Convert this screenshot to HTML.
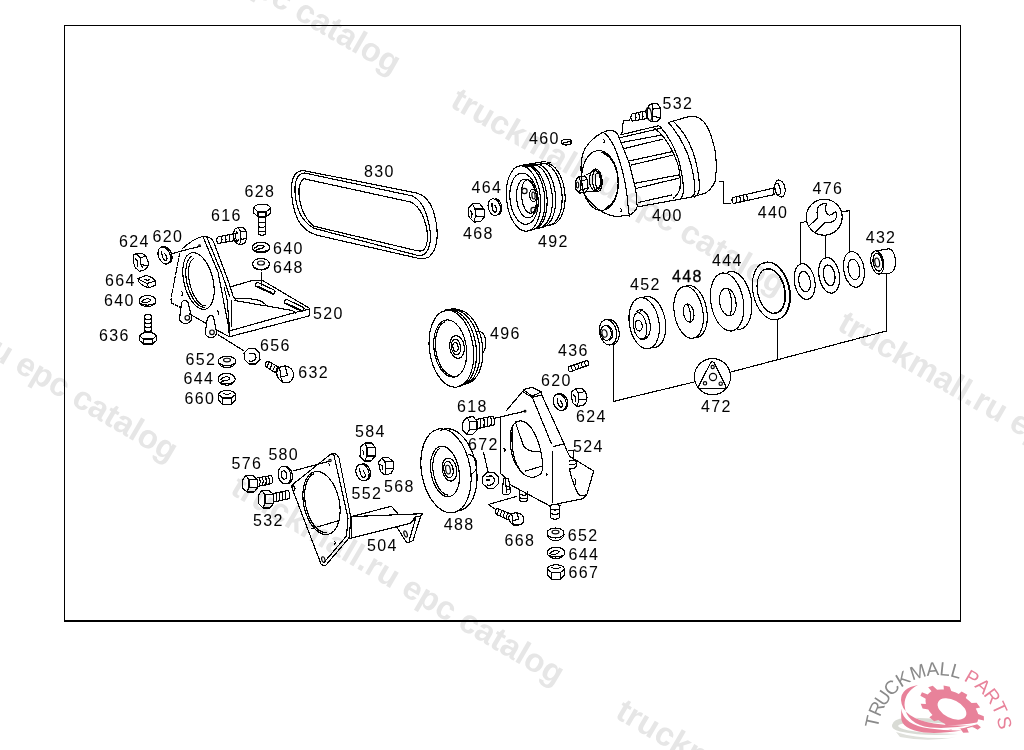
<!DOCTYPE html>
<html><head><meta charset="utf-8"><title>catalog</title>
<style>
html,body{margin:0;padding:0;background:#fff;width:1024px;height:750px;overflow:hidden}
svg{display:block;will-change:transform}
.lb text{font-family:"Liberation Sans",sans-serif;font-size:16px;letter-spacing:1.3px;fill:#000}
.wm text{font-family:"Liberation Sans",sans-serif;font-size:33px;font-weight:bold;fill:#e6e6e6}
.p{fill:none;stroke:#000;stroke-width:1.15;stroke-linejoin:round;stroke-linecap:round;shape-rendering:crispEdges}
</style></head><body>
<svg width="1024" height="750" viewBox="0 0 1024 750">
<g class="wm"><text transform="translate(64,-115) rotate(30)">truckmall.ru epc catalog</text>
<text transform="translate(449,106) rotate(30)">truckmall.ru epc catalog</text>
<text transform="translate(836,329) rotate(30)">truckmall.ru epc catalog</text>
<text transform="translate(-157.5,269.5) rotate(30.5)">truckmall.ru epc catalog</text>
<text transform="translate(229,493) rotate(30.5)">truckmall.ru epc catalog</text>
<text transform="translate(614,717) rotate(30.5)">truckmall.ru epc catalog</text>
</g>
<rect x="64.5" y="25.5" width="896" height="595" fill="none" stroke="#000" stroke-width="1"/>
<line x1="64" y1="621" x2="961" y2="621" stroke="#000" stroke-width="2"/>
<g class="p"><path d="M179.5,254 L171,299 L171.5,303 L180.5,307.5" stroke-dasharray="3,1.5"/>
<path d="M172,253.6 L189,249 L200,246.5"/>
<circle cx="199.5" cy="245.5" r="0.8" shape-rendering="geometricPrecision"/>
<path d="M182,249 Q193,239 201,237 Q207,235.5 211,238.5 Q213,240 214,243 L229,283 L233,296 L235,299"/>
<path d="M203.5,238 L218,272 L229,329"/>
<path d="M207,237.5 L222,274 L226.5,287 L230,297"/>
<path d="M224,287 L227,299 L229.5,329"/>
<path d="M231.5,301 L231.5,326"/>
<ellipse cx="198.5" cy="281" rx="14.5" ry="29" transform="rotate(-14 198.5 281)"/>
<path d="M204.8,307.4 L203.6,307.3 202.3,307 201,306.5 199.6,305.7 198.3,304.7 197,303.5 195.7,302.1 194.4,300.5 193.2,298.7 192.1,296.7 191,294.6 190,292.4 189.1,290.1 188.3,287.7 187.5,285.2 186.9,282.7 186.5,280.2 186.1,277.7 185.9,275.2 185.8,272.8 185.8,270.5 186,268.3 186.3,266.2 186.7,264.2 187.2,262.4 187.8,260.8 188.6,259.4 189.5,258.2 190.4,257.2 191.5,256.5"/>
<path d="M205.5,305.9 L204.4,305.8 203.3,305.6 202.1,305.1 201,304.3 199.8,303.4 198.6,302.3 197.5,300.9 196.4,299.4 195.3,297.7 194.3,295.9 193.3,294 192.4,291.9 191.6,289.7 190.8,287.5 190.2,285.2 189.6,282.9 189.2,280.6 188.8,278.3 188.6,276 188.5,273.8 188.5,271.7 188.6,269.6 188.8,267.7 189.1,265.9 189.6,264.3 190.1,262.8 190.7,261.5 191.5,260.4 192.3,259.5 193.2,258.8"/>
<path d="M181.5,291.5 Q184,293 182,295.5"/>
<path d="M217.5,311 Q220,313 218,315"/>
<path d="M181.5,303 Q182.5,300 185.5,300.5 Q188.5,301 188.5,304 L191.5,317 Q192,323 186,323.5 Q180.5,323.5 179.5,319 Z"/>
<circle cx="187.3" cy="317.8" r="2.3" shape-rendering="geometricPrecision"/>
<path d="M189.5,314 L205.5,323"/>
<path d="M207.5,318 Q208.5,315.5 211,315.5 Q213.5,315.5 213.8,318 L216.5,332 Q216.5,337.5 210.5,337.5 Q205.5,337 205.2,332 Z"/>
<circle cx="212" cy="332.3" r="2.3" shape-rendering="geometricPrecision"/>
<path d="M216.5,330 L229,336.5"/>
<path d="M218.5,335 L244,351"/>
<path d="M230.6,286.8 L253,280.3 L262.3,280.3 L309.5,308.3 L309.5,315.8 L229.2,336.8 L229,329"/>
<path d="M309.5,309 L295,312.5 L231,330.5"/>
<path d="M235.3,299 Q250,297 262,301.5 Q265,304 267,306 L292,310.5 Q296,312 295,314"/>
<path d="M235,300.5 L266,306"/>
<rect x="-10.5" y="-2.2" width="21" height="4.4" rx="2.2" transform="translate(265.2 288.3) rotate(25)"/>
<path d="M257.5,286.2 L272,292.8"/>
<rect x="-10.5" y="-2.2" width="21" height="4.4" rx="2.2" transform="translate(294.2 305.4) rotate(25)"/>
<path d="M286.5,303.3 L301,310"/>
<path d="M261.4,272.5 L261.4,285.5"/>
<path d="M253.8,208 Q255,204.2 262,204.2 Q269.5,204.2 270.5,208 L270.5,213 L266,217 L258,217 L253.8,213 Z"/>
<path d="M253.8,208 L258,212 L266,212 L270.5,208"/>
<path d="M258,212 L258,217 M266,212 L266,217"/>
<path d="M258.2,217 L258.2,234 Q262,236.5 265.5,234 L265.5,217"/>
<path d="M258.2,222 Q262,223.8 265.5,222"/>
<path d="M258.2,226.5 Q262,228.3 265.5,226.5"/>
<path d="M258.2,231 Q262,232.8 265.5,231"/>
<path d="M234.3,229.5 L238,227.3 L243.1,227.3 L246,231 L246.8,238.3 L244.6,243.4 L239.5,244.9 L235.1,241.9 L233.2,236 Z"/>
<path d="M238,227.3 L240.5,231.5 L241,239.5 L239.5,244.9 M240.5,231.5 L246,231 M241,239.5 L246.8,238.3"/>
<path d="M236.5,232 Q234.5,236.5 237,241.5"/>
<path d="M237.5,233 L218,237 Q215.5,240 218,243.5 L238.5,240"/>
<path d="M221,236.5 Q223,240 221,243.0"/>
<path d="M225,235.7 Q227,240 225,242.2"/>
<path d="M229,234.9 Q231,240 229,241.4"/>
<path d="M233,234.1 Q235,240 233,240.6"/>
<ellipse cx="261" cy="247.5" rx="8.8" ry="5.4"/><path d="M254.7,248.1 Q260.1,243.3 264.1,246.4 Q263.6,249.1 256.2,249.2"/><path d="M253.1,249.9 Q261,253.2 268.5,249.9"/>
<ellipse cx="261" cy="264" rx="8.5" ry="5.5"/>
<ellipse cx="261" cy="263" rx="3.5" ry="2" shape-rendering="geometricPrecision"/>
<path d="M252.5,265 Q254,270 261,270 Q268,270 269.5,265"/>
<path d="M133.4,255 L137,253.5 L142.4,253.5 L146,256 L148.4,262.8 L147.8,267 L144.2,270 L139.4,271.2 L135.2,267.6 L133.1,261 Z"/>
<path d="M137,254.5 L140.5,258 L141,264.5 L143,268 M140.5,258 L145.5,256 M141,264.5 L148,266"/>
<path d="M135.5,259 Q139,261 137.5,266"/>
<g transform="translate(164.3 255.5) rotate(-22)"><ellipse cx="0" cy="0" rx="5.8" ry="8.9"/><path d="M3,-8.6 L4,-8 5,-7.1 5.8,-5.9 6.5,-4.5 7,-3 7.2,-1.3 7.3,0.4 7.1,2.1 6.8,3.7 6.2,5.2 5.5,6.5 4.6,7.5 3.6,8.3 2.5,8.8"/><path d="M-1.2,-4.5 Q-3.5,4 -0.3,5.5 Q2.6,4.5 1.2,-1.3"/></g>
<path d="M138,278.5 L146,275.5 Q153,277 155.5,281 L155.5,285 L149,288 Q142,286 138.5,281.5 Z"/>
<path d="M138,279 L147,283.5 L155.5,281 M147,283.5 L149,288 M145,279.5 L147.5,280.5 L150,279"/>
<ellipse cx="147.5" cy="301" rx="8.5" ry="5.5"/><path d="M141.4,301.7 Q146.7,296.7 150.5,299.9 Q150.1,302.6 142.8,302.8"/><path d="M139.8,303.5 Q147.5,306.8 154.7,303.5"/>
<path d="M144.3,333 L144.3,316 Q148,312.5 151.8,316 L151.8,333"/>
<path d="M144.3,318.5 Q148,320.3 151.8,318.5"/>
<path d="M144.3,322.5 Q148,324.3 151.8,322.5"/>
<path d="M144.3,326.5 Q148,328.3 151.8,326.5"/>
<path d="M144.3,330.5 Q148,332.3 151.8,330.5"/>
<path d="M139.5,336 Q141,332.5 148,332.5 Q155,332.5 156.5,336 L156.5,340.5 L152.5,344 L143.5,344 L139.5,340.5 Z"/>
<path d="M139.5,336 L143.5,339 L152.5,339 L156.5,336 M143.5,339 L143.5,344 M152.5,339 L152.5,344"/>
<path d="M244,353 L248.5,348.5 L255,348.5 L259.5,353 L260,359.5 L255.5,364 L249,364 L244.5,359.5 Z"/>
<path d="M250,353.5 Q256,352 256,357.5 Q255.5,362 249.5,361"/>
<ellipse cx="227" cy="361" rx="8.8" ry="4.8"/>
<ellipse cx="227" cy="360" rx="3.5" ry="1.8" shape-rendering="geometricPrecision"/>
<path d="M218.3,362 Q219.5,367.5 227,367.5 Q234.5,367.5 235.7,362"/>
<ellipse cx="226.6" cy="379.2" rx="8.6" ry="6"/><path d="M220.4,379.9 Q225.7,374.5 229.6,378 Q229.2,381 221.9,381.1"/><path d="M218.9,381.9 Q226.6,385.5 233.9,381.9"/>
<path d="M218.5,394.5 Q220,390.5 227,390.5 Q234,390.5 235.5,394.5 L235.5,400 L231.5,404.5 L222.5,404.5 L218.5,400 Z"/>
<path d="M218.5,394.5 L222.5,398 L231.5,398 L235.5,394.5 M222.5,398 L222.5,404.5 M231.5,398 L231.5,404.5 M223,393 Q227,396 231,393"/>
<path d="M278.5,367.5 L285,365.8 Q292,367 293.5,373.5 Q294,380 288.5,382.5 L283,382.5 Q277.5,379 276.5,373.5 Z"/>
<path d="M278.5,367.5 Q281.5,372 280.5,377 L283,382.5 M280.5,377 L287.5,375.5 L285,365.8"/>
<path d="M279.5,367.5 L268.5,361.5 Q264,362 265.5,366.5 L276,373"/>
<path d="M269,362.5 Q267.5,366.0 266.5,367.5"/>
<path d="M272,364.2 Q270.5,367.7 269.5,369.2"/>
<path d="M275,365.9 Q273.5,369.4 272.5,370.9"/>
<path d="M278,367.6 Q276.5,371.1 275.5,372.6"/>
<path d="M278,366.5 Q275,370.5 277.5,375"/><path d="M304.2,170.7 L416.7,193 Q428,196 433,210 Q437.5,224 437.2,236 Q437,250 429,257 Q424,259.5 417,258 L317,235.2 Q305,232 298,220 Q291.5,206 291.5,188 Q292,176 297,172.5 Q300,170.5 304.2,170.7 Z"/>
<path d="M304.5,173 L412.2,195.9 Q421,200 425.5,212 Q430.5,226 430.5,238 Q430,250 424,254.5 Q420.5,256 416,255 L313.8,228.3 Q303,222 298.5,210 Q294,197 295.2,185 Q296.5,176 301,174 Z"/>
<path d="M303.7,178.7 L411,202.1 Q418,206 422,214 Q427,225 427.5,236 Q427.5,247 423,250.5 Q420,251.5 416,250.5 L313.8,226.2 Q306,220 302,209 Q298.5,198 299,189 Q300,181 303.7,178.7 Z"/>
<ellipse cx="523.5" cy="198.5" rx="17" ry="32.8" transform="rotate(-6 523.5 198.5)"/>
<ellipse cx="524" cy="198.7" rx="14" ry="25.7" transform="rotate(-6 524 198.7)"/>
<ellipse cx="526.6" cy="198.5" rx="10" ry="19.5" transform="rotate(-6 526.6 198.5)"/>
<ellipse cx="529" cy="196.5" rx="7.5" ry="16.8" transform="rotate(-6 529 196.5)"/>
<circle cx="524.5" cy="191" r="2.6" shape-rendering="geometricPrecision"/>
<circle cx="533.5" cy="210" r="2.6" shape-rendering="geometricPrecision"/>
<ellipse cx="533" cy="195.5" rx="3.3" ry="6" transform="rotate(-6 533 195.5)"/>
<ellipse cx="533.5" cy="195.5" rx="1.6" ry="3.5" transform="rotate(-6 533.5 195.5)" shape-rendering="geometricPrecision"/>
<path d="M522.8,165.6 L524.8,165.2 526.9,165.4 528.9,166 530.9,167 532.9,168.5 534.8,170.3 536.6,172.6 538.3,175.2 539.8,178.1 541.2,181.3 542.4,184.8 543.3,188.4 544.1,192.1 544.6,195.9 544.9,199.8 544.9,203.6 544.7,207.3 544.3,210.9 543.6,214.3 542.7,217.5 541.6,220.4 540.3,223 538.9,225.2 537.2,227.1 535.5,228.5 533.6,229.5 531.6,230.1 529.6,230.2"/>
<path d="M525.1,165.5 L527.1,165.1 529.1,165.3 531.1,165.9 533.1,166.9 535.1,168.3 537,170.2 538.8,172.4 540.5,175 542,177.9 543.4,181.1 544.6,184.5 545.5,188 546.3,191.7 546.8,195.5 547.1,199.3 547.1,203.1 546.9,206.8 546.5,210.4 545.8,213.8 544.9,216.9 543.8,219.8 542.5,222.3 541,224.6 539.4,226.4 537.6,227.8 535.8,228.8 533.8,229.4 531.8,229.5"/>
<path d="M530.4,164.8 L532.4,164.4 534.4,164.6 536.5,165.1 538.5,166.2 540.5,167.6 542.4,169.4 544.2,171.6 545.8,174.2 547.4,177.1 548.7,180.2 549.9,183.6 550.8,187.1 551.6,190.8 552.1,194.5 552.4,198.3 552.4,202 552.2,205.7 551.8,209.2 551.1,212.6 550.2,215.7 549.1,218.6 547.8,221.1 546.3,223.3 544.7,225.1 542.9,226.5 541,227.5 539.1,228.1 537.1,228.2"/>
<path d="M533.6,164.3 L535.6,164 537.6,164.2 539.7,164.7 541.7,165.7 543.7,167.2 545.6,169 547.4,171.2 549,173.7 550.6,176.6 551.9,179.7 553.1,183 554.1,186.6 554.8,190.2 555.3,193.9 555.6,197.7 555.6,201.4 555.4,205 555,208.5 554.3,211.9 553.4,215 552.3,217.8 551,220.3 549.5,222.5 547.9,224.3 546.1,225.7 544.2,226.7 542.2,227.3 540.2,227.4"/>
<path d="M540.2,163.6 L542.2,163.3 544.2,163.5 546.2,164 548.2,165 550.2,166.4 552.1,168.2 553.9,170.3 555.6,172.8 557.1,175.7 558.5,178.7 559.6,182 560.6,185.5 561.3,189.1 561.8,192.7 562.1,196.4 562.1,200.1 561.9,203.7 561.4,207.1 560.8,210.4 559.8,213.5 558.7,216.2 557.4,218.7 555.9,220.9 554.3,222.7 552.5,224 550.7,225 548.7,225.6 546.7,225.7"/>
<path d="M543.2,163.4 L545.2,163.1 547.2,163.2 549.3,163.8 551.3,164.8 553.2,166.2 555.1,167.9 556.9,170.1 558.6,172.5 560.1,175.3 561.5,178.4 562.6,181.6 563.6,185 564.3,188.6 564.8,192.2 565.1,195.9 565.1,199.5 564.9,203.1 564.4,206.5 563.7,209.7 562.8,212.8 561.7,215.5 560.4,218 558.9,220.1 557.3,221.9 555.5,223.3 553.6,224.2 551.7,224.8 549.7,224.9"/>
<path d="M521,165.5 L546,161.2 M527,166.5 L550,162.5"/>
<path d="M468.5,208 L472.5,203.8 L479.5,203.6 L484,209 L484.8,216.5 L480.5,221.8 L474,222 L469,217 Z"/>
<path d="M472.5,203.8 L475,209 L475.5,216 L474,222 M475,209 L484,209 M475.5,216 L484.8,216.5"/>
<path d="M470.5,211 Q473,213 471.5,217"/>
<g transform="translate(494.2 207.2) rotate(-15)"><ellipse cx="0" cy="0" rx="6" ry="8.5"/><path d="M3.1,-8.2 L4.1,-7.6 5.1,-6.8 6,-5.7 6.7,-4.3 7.2,-2.9 7.4,-1.3 7.5,0.4 7.3,2 7,3.5 6.4,5 5.6,6.2 4.7,7.2 3.7,7.9 2.5,8.4"/><path d="M-1.2,-4.2 Q-3.6,3.8 -0.3,5.3 Q2.7,4.2 1.2,-1.3"/></g>
<path d="M561,142 Q562,139.5 567,139.2 Q572,139.5 572,142 Q571,145 566,145 Q561,145 561,142 Z"/>
<path d="M562,143.5 Q566,141.5 570.5,142"/>
<path d="M602.2,132.6 Q607,130.3 612,130.5 Q616,131 617.6,134 L628.8,162 L635.8,190 L637.2,206.8 Q635,213 628.8,215.2 L616.2,216.6 Q607,215 600.8,211 Q594,206.5 589.6,201.2 Q584,195 582.6,190 Q580.5,175 581.2,162 Q582.5,153 585.4,148 Q592,138 602.2,132.6 Z"/>
<path d="M605,133.3 Q612,140 616.5,152 Q624,172 627,195 Q628,208 629.5,216"/>
<ellipse cx="600" cy="180.5" rx="18.3" ry="30" transform="rotate(-4 600 180.5)"/>
<path d="M602,152.3 L604.6,153.2 607.1,154.8 609.5,157 611.7,159.7 613.6,163 615.3,166.7 616.5,170.7 617.4,174.9 618,179.3 618.1,183.7 617.8,188.1 617,192.2 616,196.1 614.5,199.6 612.7,202.6 610.7,205.1 608.4,207 605.9,208.3"/>
<path d="M603.3,153.8 L605.7,154.7 608,156.2 610.2,158.2 612.2,160.9 614,164 615.5,167.4 616.6,171.2 617.5,175.3 618,179.4 618.1,183.6 617.8,187.7 617.2,191.6 616.2,195.3 614.9,198.6 613.2,201.5 611.4,203.8 609.3,205.6 607,206.8"/>
<ellipse cx="595.5" cy="180" rx="6" ry="11"/>
<path d="M596.5,171 L597.9,171.4 599.1,172.7 600.1,174.7 600.8,177.2 601,180 600.8,182.8 600.1,185.3 599.1,187.3 597.9,188.6 596.5,189"/>
<ellipse cx="597.3" cy="180.5" rx="4.8" ry="11" transform="rotate(-4 597.3 180.5)"/>
<ellipse cx="597.8" cy="180.5" rx="2.6" ry="7.5" transform="rotate(-4 597.8 180.5)"/>
<path d="M587,174.5 L596.5,169.5 M587,191.5 L597,191.5"/>
<path d="M575.5,181 L578.5,176.5 L584.5,176 L587.5,179.5 L588,188.5 L585,192.8 L579,193 L575.8,189 Z"/>
<path d="M578.5,176.5 L580.5,181 L580.5,189.5 L579,193 M580.5,181 L587.5,179.5 M580.5,189.5 L588,188.5"/>
<ellipse cx="577.5" cy="185" rx="1.2" ry="3" shape-rendering="geometricPrecision"/>
<path d="M603,139 Q605.5,140.5 604,142.5"/>
<path d="M620,208 Q622.5,209.5 621,211.5"/>
<path d="M620,135 L658.3,125.8"/>
<path d="M620.8,137.5 L660,128.5 M621.7,142.5 L661.7,135 M625,148.3 L662.5,139.2"/>
<path d="M630,160.8 L671.7,151.7 M631.7,165 L673.3,155"/>
<path d="M635,183.3 L678.3,175 M636.7,188.3 L678.3,178.3"/>
<path d="M638.3,202.5 L671.7,195 M638.3,206.7 L693.3,196.7"/>
<path d="M655,128.3 Q666,138 671.7,150 Q678,162 679.2,170 Q681,180 680,188.3 Q678,195 673.3,198.3"/>
<path d="M660,126.5 Q672,140 678,158 Q683,175 683.5,190 Q683,197 680,199"/>
<path d="M668.3,122.5 Q680,135 688,155 Q695,175 695,192 Q694,196 690,197.5"/>
<path d="M673,121 Q686,133 693,152 Q699,170 699.5,187 Q699,195 694.5,197"/>
<path d="M668.3,122.5 L688.3,116.7 Q697,115 703,121 Q710,128 715,150 L716.7,166.7 L715,181.7 Q711,190 705,193.3 L693.3,196.7"/>
<path d="M630,120 L623.3,120.8 L621.7,135"/>
<path d="M648.3,106 L652,103.5 L657.5,104 L660.8,108.5 L660.5,118 L656.5,121.7 L650.5,121.7 L647,117.5 Z"/>
<path d="M652,103.5 L653,109 L652,121.7 M653,109 L660.8,108.5 M652.5,116 L660.5,118"/>
<ellipse cx="649" cy="114" rx="2.5" ry="6.5" transform="rotate(-10 649 114)" shape-rendering="geometricPrecision"/>
<path d="M647.5,110.5 L632,114 Q629.5,118 632.5,121 L648,118.5"/>
<path d="M635,113.5 Q637,117 635,120.8"/>
<path d="M638.5,112.8 Q640.5,117 638.5,120.1"/>
<path d="M642,112.1 Q644,117 642,119.39999999999999"/>
<path d="M645.5,111.4 Q647.5,117 645.5,118.7"/>
<path d="M719.2,181.7 L723.8,181.7 L723.8,203.5 L730.5,203.5"/>
<path d="M774,188 L733,197.5 Q730.5,200.5 733.5,203.5 L774.5,194.5"/>
<path d="M736,197.0 Q738,200 736,203.0"/>
<path d="M739.5,196.195 Q741.5,200 739.5,202.195"/>
<path d="M743,195.39 Q745,200 743,201.39"/>
<path d="M746.5,194.585 Q748.5,200 746.5,200.585"/>
<ellipse cx="780" cy="188.5" rx="5" ry="8.6" transform="rotate(-12 780 188.5)"/>
<ellipse cx="777.5" cy="189" rx="2.6" ry="6" transform="rotate(-12 777.5 189)"/>
<path d="M774,187 Q772.5,191 774.5,194.5"/><ellipse cx="608" cy="332.3" rx="8.5" ry="12.8" transform="rotate(-12 608 332.3)"/>
<path d="M607.8,319.5 L609.5,319.4 611.2,319.8 612.9,320.6 614.5,321.9 615.9,323.6 617.2,325.6 618.1,327.8 618.8,330.2 619.2,332.7 619.2,335.2 618.9,337.5 618.3,339.6 617.3,341.4 616.1,342.9 614.7,343.9 613.2,344.5"/>
<ellipse cx="606" cy="333" rx="5.2" ry="7.5" transform="rotate(-12 606 333)"/>
<ellipse cx="604.5" cy="333.5" rx="2.5" ry="3.8" transform="rotate(-12 604.5 333.5)" shape-rendering="geometricPrecision"/>
<path d="M605.9,325.7 L607.6,325.7 609.2,326.4 610.7,327.8 611.9,329.7 612.6,331.9 612.8,334.2 612.5,336.4 611.8,338.3 610.6,339.6 609.1,340.3"/>
<ellipse cx="644.2" cy="323.2" rx="14.8" ry="25.8" transform="rotate(-10 644.2 323.2)"/>
<path d="M643.6,297.4 L645.6,296.7 647.7,296.5 649.9,296.8 652.2,297.7 654.3,299 656.4,300.9 658.4,303.2 660.2,305.9 661.8,308.9 663.2,312.3 664.3,315.8 665.1,319.4 665.6,323.1 665.7,326.8 665.6,330.4 665.1,333.8 664.4,337 663.3,339.8 662,342.3 660.4,344.3 658.6,345.9 656.6,346.9 654.6,347.5 652.4,347.5"/>
<path d="M641.5,297.8 L647.5,296.2"/>
<ellipse cx="640" cy="326" rx="6.5" ry="13.5" transform="rotate(-10 640 326)"/>
<path d="M640.1,311.1 L641.4,310.7 642.8,310.8 644.3,311.6 645.7,312.9 647,314.7 648.2,317 649.1,319.5 649.8,322.3 650.2,325.1 650.3,327.9 650.1,330.5 649.6,332.8 648.8,334.7 647.8,336.2 646.6,337 645.3,337.3"/>
<ellipse cx="638.8" cy="325.5" rx="3.3" ry="5.5" transform="rotate(-10 638.8 325.5)"/>
<path d="M637,311.5 Q640,308.5 643,310 M641,338.5 Q645,340.5 648,337"/>
<ellipse cx="688.6" cy="312.3" rx="14.3" ry="26.3" transform="rotate(-10 688.6 312.3)"/>
<path d="M685.6,286.4 L687.5,285.7 689.6,285.5 691.7,285.8 693.9,286.7 696,288.2 698.1,290.1 700,292.4 701.8,295.2 703.3,298.3 704.7,301.7 705.8,305.3 706.6,309 707.1,312.8 707.3,316.5 707.2,320.2 706.8,323.7 706.1,326.9 705.1,329.7 703.8,332.2 702.3,334.3 700.6,335.9 698.7,336.9 696.7,337.5 694.6,337.4"/>
<ellipse cx="688.6" cy="313" rx="5.2" ry="9.2" transform="rotate(-10 688.6 313)"/>
<path d="M687.5,304.5 Q691.5,312 690.8,321"/>
<ellipse cx="727.1" cy="302" rx="16.2" ry="29.3" transform="rotate(-10 727.1 302)"/>
<path d="M727.2,272.6 L729.5,271.7 731.8,271.5 734.2,271.9 736.6,272.9 739,274.5 741.4,276.6 743.5,279.2 745.5,282.3 747.3,285.8 748.8,289.5 750,293.5 751,297.7 751.5,301.9 751.7,306.1 751.6,310.1 751.1,314 750.3,317.6 749.2,320.8 747.7,323.6 746,325.9 744,327.6 741.9,328.8 739.6,329.4 737.2,329.4"/>
<ellipse cx="727.8" cy="302" rx="8.2" ry="14" transform="rotate(-10 727.8 302)"/>
<path d="M728.4,289.3 Q734,301 730.5,314.8"/>
<ellipse cx="771" cy="291" rx="18" ry="29.3" transform="rotate(-12 771 291)"/>
<path d="M763.3,263.5 L765.7,262.6 768.2,262.2 770.8,262.5 773.5,263.3 776.1,264.7 778.6,266.7 781.1,269.2 783.3,272.2 785.3,275.5 787,279.2 788.4,283.1 789.4,287.1 790.1,291.3 790.4,295.4 790.4,299.5 789.9,303.3 789.1,306.9 787.9,310.2 786.4,313 784.6,315.4 782.5,317.3 780.2,318.5 777.7,319.3 775.1,319.4"/>
<ellipse cx="771" cy="291" rx="13.4" ry="22.6" transform="rotate(-12 771 291)"/>
<path d="M765.2,269.9 L767,269.2 768.9,268.9 770.8,269.1 772.8,269.8 774.7,270.9 776.6,272.5 778.4,274.4 780.1,276.7 781.6,279.3 782.8,282.1 783.9,285.2 784.7,288.3 785.3,291.5 785.5,294.7 785.5,297.8 785.2,300.8 784.6,303.5 783.7,306 782.6,308.2 781.3,310 779.8,311.5 778.1,312.4 776.3,313 774.4,313"/>
<ellipse cx="804.6" cy="281.6" rx="10.2" ry="18" transform="rotate(-10 804.6 281.6)"/>
<ellipse cx="804.6" cy="281.6" rx="5.7" ry="10.4" transform="rotate(-10 804.6 281.6)"/>
<ellipse cx="829.2" cy="275.3" rx="10.2" ry="18" transform="rotate(-10 829.2 275.3)"/>
<ellipse cx="829.2" cy="275.3" rx="5.7" ry="10.4" transform="rotate(-10 829.2 275.3)"/>
<ellipse cx="853.9" cy="269.4" rx="10.2" ry="18" transform="rotate(-10 853.9 269.4)"/>
<ellipse cx="853.9" cy="269.4" rx="5.7" ry="10.4" transform="rotate(-10 853.9 269.4)"/>
<circle cx="824.2" cy="217.2" r="18"/>
<path d="M809.6,225.4 L817.8,217.8 Q818,213 817,212.7 Q817,207 820.3,205.1 Q823.5,203 826.6,203.9 Q824.5,207 825.4,210.2 Q826.5,214 829.2,215.3 Q833,214.5 835.5,211.5 Q837.5,214 836.8,216.5 Q835.5,220.5 833,221.6 Q830,222.8 828,222.2 Q826,222 824.7,222.8 L815.9,231.7"/>
<path d="M805.8,221.6 L800.7,222.8 L800.7,264"/>
<path d="M825.4,235.3 L825.4,258"/>
<path d="M842.2,211.5 L849.4,210.8 L849.4,251.5"/>
<ellipse cx="877.3" cy="262.4" rx="6.3" ry="11.7" transform="rotate(-10 877.3 262.4)"/>
<path d="M877,250.7 L888.7,248.8 Q895,250 895.5,262 Q895.5,272 889,273.5 L879,274"/>
<ellipse cx="877.8" cy="262.3" rx="4.6" ry="9" transform="rotate(-10 877.8 262.3)"/>
<ellipse cx="877.2" cy="262.5" rx="2.3" ry="4.5" transform="rotate(-10 877.2 262.5)" shape-rendering="geometricPrecision"/>
<path d="M886.3,274 L886.3,331 L731,372"/>
<path d="M777.5,320.3 L777.5,359.5"/>
<path d="M613.5,345 L613.5,401.4 L694.3,382"/>
<circle cx="712.5" cy="376.7" r="18.1"/>
<path d="M710.5,363 Q712.3,360.5 714.2,363 L725.5,385.5 Q726.5,388.7 723.5,388.7 L701,388.7 Q697.8,388.7 699,385.5 Z"/>
<circle cx="713" cy="377" r="3.6" shape-rendering="geometricPrecision"/>
<circle cx="712.7" cy="367" r="1.6" shape-rendering="geometricPrecision"/>
<circle cx="705" cy="383.3" r="1.7" shape-rendering="geometricPrecision"/>
<circle cx="720.7" cy="383.7" r="1.7" shape-rendering="geometricPrecision"/>
<ellipse cx="451.4" cy="348.8" rx="21.9" ry="38.7" transform="rotate(-8 451.4 348.8)"/>
<ellipse cx="450.2" cy="348.5" rx="16.2" ry="28.8" transform="rotate(-8 450.2 348.5)"/>
<path d="M451.9,375.7 L449.7,375 447.6,373.9 445.6,372.2 443.6,370.1 441.8,367.6 440.1,364.7 438.7,361.5 437.5,358 436.5,354.4 435.8,350.6 435.5,346.8 435.4,343 435.6,339.3 436.1,335.8 436.9,332.6 437.9,329.7 439.2,327.1 440.7,324.9 442.5,323.2 444.4,322"/>
<ellipse cx="457" cy="347" rx="7.3" ry="11.4" transform="rotate(-8 457 347)"/>
<ellipse cx="456" cy="347" rx="4.6" ry="7.8" transform="rotate(-8 456 347)"/>
<ellipse cx="455.5" cy="347" rx="2.6" ry="4.4" transform="rotate(-8 455.5 347)"/>
<path d="M447,310.7 L449.5,310.2 452.2,310.2 454.8,310.8 457.4,311.9 460,313.5 462.5,315.6 464.9,318.2 467.2,321.2 469.2,324.5 471.1,328.2 472.7,332.1 474,336.3 475.1,340.7 475.9,345.2 476.4,349.7 476.5,354.1 476.4,358.5 475.9,362.8 475.2,366.8 474.1,370.6 472.8,374.1 471.2,377.2 469.4,379.9 467.3,382.2 465.1,384 462.7,385.2 460.2,386 457.6,386.2"/>
<path d="M450.5,310.5 L453,310 455.6,310 458.3,310.6 460.9,311.7 463.5,313.3 466,315.3 468.4,317.8 470.6,320.8 472.7,324.1 474.5,327.7 476.1,331.6 477.4,335.8 478.5,340.1 479.3,344.5 479.8,348.9 479.9,353.3 479.8,357.7 479.3,361.9 478.5,365.9 477.5,369.6 476.1,373 474.5,376.1 472.7,378.8 470.6,381 468.4,382.8 466,384.1 463.5,384.8 461,385.1"/>
<path d="M453.5,310.4 L456.1,309.9 458.7,309.9 461.3,310.5 464,311.5 466.5,313.1 469,315.1 471.4,317.6 473.7,320.5 475.7,323.8 477.5,327.3 479.1,331.2 480.5,335.3 481.5,339.5 482.3,343.9 482.7,348.2 482.9,352.6 482.7,356.9 482.3,361 481.5,365 480.4,368.7 479.1,372.1 477.5,375.1 475.6,377.8 473.6,380 471.3,381.7 469,383 466.5,383.7 463.9,384"/>
<path d="M445.3,310.1 L455.5,308.2"/>
<path d="M478,331.5 Q484,331 485.8,340 Q486.5,349 482.5,353"/>
<path d="M569,366.5 L587,360.5 Q590,362 588,365.5 L570.5,371.5 Q567,371 569,366.5 Z"/>
<path d="M571.0,366.0 Q572.2,369.0 572.5,371.0"/>
<path d="M574.3,364.9 Q575.5,367.9 575.8,369.9"/>
<path d="M577.6,363.8 Q578.8000000000001,366.8 579.1,368.8"/>
<path d="M580.9,362.7 Q582.1,365.7 582.4,367.7"/>
<path d="M584.2,361.6 Q585.4000000000001,364.6 585.7,366.6"/><path d="M523.2,389.6 L532.2,387.2 L541.2,392 L532.2,396.2 Z"/>
<path d="M523.2,389.6 L523.2,392 L532.2,397.4 L541.8,395 L541.2,392"/>
<path d="M522.6,391.4 L506.4,410.6"/>
<path d="M532.2,397 L551.4,443.6"/>
<path d="M542,395.5 L564,443.6 L567,450.8 L569.5,456"/>
<path d="M553.9,446.4 L563.8,444.1"/>
<path d="M552.7,451.1 L552.7,502.1"/>
<path d="M494,418.4 L525,411.2"/>
<circle cx="525" cy="411.2" r="0.9" shape-rendering="geometricPrecision"/>
<path d="M500.5,417.5 L500.5,473.4 L505.2,477.5"/>
<path d="M509.9,484.5 L549.2,505.6 L583.2,498.6 L586.7,495.1 L593.7,471 L569.7,456.4"/>
<path d="M569.1,468 Q571,478 575,487 Q577,493 579.6,495 Q583,496 586.7,494.5"/>
<path d="M510.6,431.6 Q513,421 520.2,420.8 Q530,421 537.4,440 Q542,451 542.7,467 Q542,475 538.6,475.2 Q535,477.5 531.6,477.5 Q525,476 521,471.7 Q515,464 512.8,457.6 Q509,444 510.6,431.6 Z"/>
<path d="M512.5,426 Q511,440 513.5,455 Q516,466 523,473.5"/>
<path d="M515.4,422 Q520,436 523.5,446 Q527,451 536.3,451.7 L540,451.5"/>
<path d="M525.7,471 L541,466.4"/>
<path d="M504,448.5 Q506,449.5 504.5,451"/>
<path d="M546,473 Q548,474 546.5,475.5"/>
<path d="M519.3,491 L519.3,500.5 Q523.4,503 527.5,500.5 L527.5,492"/>
<path d="M519.3,494 Q523.4,496 527.5,494.5 M519.3,497.5 Q523.4,499.5 527.5,498"/>
<path d="M550,505.5 Q555,503 560,505.5 L559.1,518 Q555,520.5 550.9,518 Z"/>
<path d="M550.9,509 Q555,511 559.1,509 M550.9,513.5 Q555,515.5 559.1,513.5"/>
<path d="M569,450.6 L573.5,450.6 L573.5,459"/>
<path d="M569.5,461 Q576,459 577,464 Q576,469 570.5,469 M570,464.5 Q574,465 576.5,463.5"/>
<path d="M574,478 Q577,480 575.5,484"/>
<path d="M503.5,479 Q505.5,477.5 508.5,478.5 L510.5,491 Q510.5,495 505,495 Q502,494.5 502.3,491 Z"/>
<path d="M505.5,480 L506.5,492 M507,486 Q510,486 509.5,489.5 Q507,490.5 506.5,488"/>
<path d="M482.8,477 L487,472.4 L493.5,472.2 L498.2,477 L498.5,483.5 L494,488.1 L487.5,488.1 L482.5,483.5 Z"/>
<path d="M487,476.5 Q494,474.5 494.5,480 Q494,486 487.5,485 M486.5,480 L490,480"/>
<path d="M483.5,452.3 L488.2,472.2"/>
<path d="M516.9,496.3 L488.2,504.5 L495.2,509.2"/>
<path d="M511,513.5 L516.5,512.7 Q523,513.5 524,519 Q524,524.5 519,525 L513.5,525 Q509,522 508.5,517.5 Z"/>
<path d="M511,513.5 Q513.5,517 512.5,521 L513.5,525 M512.5,521 L519,519 L516.5,512.7"/>
<path d="M510,513.5 L497,508.5 Q494,510.5 496.5,514.5 L509,520"/>
<path d="M499,509.3 Q497.5,512.3 497.5,514.8"/>
<path d="M502,510.40000000000003 Q500.5,513.4000000000001 500.5,515.9000000000001"/>
<path d="M505,511.5 Q503.5,514.5 503.5,517.0"/>
<path d="M508,512.6 Q506.5,515.6 506.5,518.1"/>
<g transform="translate(559.8 402.3) rotate(-22)"><ellipse cx="0" cy="0" rx="6.2" ry="8.6"/><path d="M3.1,-8.3 L4.2,-7.7 5.2,-6.9 6.1,-5.7 6.8,-4.4 7.3,-2.9 7.6,-1.3 7.7,0.4 7.5,2 7.1,3.6 6.5,5 5.7,6.3 4.8,7.3 3.7,8 2.6,8.5"/><path d="M-1.2,-4.3 Q-3.7,3.9 -0.3,5.3 Q2.8,4.3 1.2,-1.3"/></g>
<path d="M571.5,392 L575.5,388.6 L581.5,388.4 L585.5,391.5 L587,397.5 L586.5,401.5 L583,405.5 L577,406.4 L573,403 L571.2,397 Z"/>
<path d="M575.5,388.8 L578.5,393 L579,399.5 L577,406.4 M578.5,393 L585.5,391.5 M579,399.5 L586.8,399"/>
<path d="M573.5,395 Q577,397 575.5,401.5"/>
<path d="M476.5,419.5 L493,416.2 Q495,419 494,425 L476.5,428.8"/>
<path d="M480,418.5 Q481.8,422.5 480,427.8"/>
<path d="M483.5,417.8 Q485.3,422.5 483.5,427.1"/>
<path d="M487,417.1 Q488.8,422.5 487,426.40000000000003"/>
<path d="M490.5,416.4 Q492.3,422.5 490.5,425.7"/>
<path d="M463,422 L467,417.2 L473.5,416.8 L477,421.5 L477,430 L473,434.2 L466.5,434.3 L462.5,430 Z"/>
<path d="M467,417.2 L469.5,422 L469.5,429.5 L466.5,434.3 M469.5,422 L477,421.5 M469.5,429.5 L477,430"/>
<ellipse cx="446" cy="470.8" rx="24.4" ry="42.4" transform="rotate(-10 446 470.8)"/>
<path d="M440.7,430.3 L443.8,429.2 446.9,428.7 450.2,429 453.4,429.9 456.7,431.6 459.9,433.9 462.9,436.8 465.8,440.3 468.4,444.3 470.7,448.7 472.8,453.5 474.4,458.5 475.7,463.8 476.6,469.1 477,474.5 477,479.8 476.6,484.9 475.8,489.8 474.6,494.3 473,498.4 471,502 468.7,505 466.1,507.5 463.3,509.3 460.2,510.4 457.1,510.9"/>
<ellipse cx="445" cy="471.5" rx="14" ry="25.5" transform="rotate(-10 445 471.5)"/>
<path d="M447.8,495.2 L446,494.6 444.1,493.7 442.4,492.3 440.7,490.5 439,488.4 437.6,485.9 436.2,483.1 435.1,480.1 434.2,476.9 433.5,473.7 433,470.4 432.8,467.1 432.9,463.9 433.2,460.8 433.7,458 434.5,455.4 435.5,453.1 436.7,451.2 438,449.7 439.6,448.6"/>
<ellipse cx="449.5" cy="469.6" rx="7.2" ry="11.6" transform="rotate(-10 449.5 469.6)"/>
<ellipse cx="448.5" cy="469.6" rx="4.6" ry="8.2" transform="rotate(-10 448.5 469.6)"/>
<ellipse cx="448" cy="469.6" rx="2.3" ry="4.4" transform="rotate(-10 448 469.6)" shape-rendering="geometricPrecision"/>
<path d="M468.5,454.5 Q475,455 476.8,463 Q477.5,471 471,474.5"/>
<path d="M292,485 L331,454 Q336,452 339,458 L351,518 L349,538 L326,565 Q323,566 321,564 L292,488 Z"/>
<path d="M334,455.5 L348,518 L346.5,536 L324,562.5"/>
<path d="M331,454 L334.5,455.5"/>
<path d="M293,471 L330,461"/>
<circle cx="330" cy="460.5" r="1.2" shape-rendering="geometricPrecision"/>
<path d="M328.5,463.5 Q330.5,464.5 329,466"/>
<path d="M293.5,485.5 Q296,488 294.5,490"/>
<path d="M334,541 Q336,542.5 334.5,544"/>
<ellipse cx="323.3" cy="559.5" rx="1.6" ry="2.8" transform="rotate(-15 323.3 559.5)" shape-rendering="geometricPrecision"/>
<ellipse cx="321.5" cy="503" rx="17.8" ry="32" transform="rotate(-12 321.5 503)"/>
<path d="M326.4,532.8 L324,532.6 321.5,531.7 319,530.2 316.5,528.1 314.2,525.5 312,522.3 310.1,518.8 308.4,514.8 307,510.7 305.8,506.3 305.1,501.9 304.7,497.5 304.7,493.2 305,489.2 305.7,485.4 306.8,482.1 308.1,479.2 309.8,476.8 311.7,475 313.9,473.8"/>
<path d="M312,528.5 L337.5,521"/>
<path d="M351.6,516.6 L391.5,506.2 L398.1,514.1"/>
<path d="M351.6,516.6 L422.6,513.7 L420.5,517 L413,540.4 Q410.5,542.5 406.4,542.3 L396.5,526.5"/>
<path d="M349.1,538.6 L410.6,523.2 L415.5,516.6 L420.5,516"/>
<path d="M410.6,523.2 L415.5,519 L409,541"/>
<path d="M351.6,517 L351.6,537.5"/>
<ellipse cx="405.6" cy="534" rx="1.5" ry="3.2" transform="rotate(-20 405.6 534)" shape-rendering="geometricPrecision"/>
<path d="M360.5,447 L365,443 L371.5,443 L375.5,447.5 L375.5,456 L371,461 L364.5,461 L360,456.5 Z"/>
<path d="M365,443 L367,448 L367,456 L364.5,461 M367,448 L375.5,447.5 M367,456 L375.5,456"/>
<path d="M362,450 Q364.5,452 363,455"/>
<g transform="translate(362.5 472.5) rotate(-22)"><ellipse cx="0" cy="0" rx="6.3" ry="8.6"/><path d="M3.1,-8.3 L4.3,-7.7 5.3,-6.9 6.2,-5.7 6.9,-4.4 7.4,-2.9 7.7,-1.3 7.8,0.4 7.6,2 7.2,3.6 6.6,5 5.8,6.3 4.9,7.3 3.8,8 2.6,8.5"/><path d="M-1.3,-4.3 Q-3.8,3.9 -0.3,5.3 Q2.8,4.3 1.3,-1.3"/></g>
<path d="M378.5,462 L382,458 L388.5,457.5 L393,461.5 L394,468 L391,473.5 L385,475 L380.5,471.5 Z"/>
<path d="M382,458 L385,462 L385.5,469 L385,475 M385,462 L393,461.5 M385.5,469 L394,468"/>
<path d="M380.5,464.5 Q384,466.5 382,470"/>
<ellipse cx="284.5" cy="475" rx="6.3" ry="9" transform="rotate(-12 284.5 475)"/>
<ellipse cx="284" cy="475" rx="2.6" ry="4.2" transform="rotate(-12 284 475)"/>
<path d="M286.3,466.3 L287.6,466.8 288.8,467.7 289.9,468.8 290.8,470.2 291.6,471.8 292.1,473.5 292.4,475.2 292.4,477 292.2,478.7 291.7,480.2 291,481.5 290.1,482.6 289.1,483.4 287.9,483.8"/>
<path d="M257,478 L271.5,475.5 Q273.5,479 272.5,483.5 L257.5,486.5"/>
<path d="M259.5,477.5 Q261.0,481.5 259.5,486.0"/>
<path d="M262.5,476.99 Q264.0,481.5 262.5,485.49"/>
<path d="M265.5,476.48 Q267.0,481.5 265.5,484.98"/>
<path d="M268.5,475.97 Q270.0,481.5 268.5,484.47"/>
<path d="M242.5,480 L246,475.5 L253,475.5 L257.5,479.5 L257.5,488 L254,492 L247,492 L242.5,488 Z"/>
<path d="M246,475.5 L249,480 L249,487.5 L247,492 M249,480 L257.5,479.5 M249,487.5 L257.5,488"/>
<path d="M273.5,493.5 L288.5,490.5 Q290.5,494 289.5,498.5 L274,502"/>
<path d="M276,493.0 Q277.5,497 276,501.5"/>
<path d="M279,492.49 Q280.5,497 279,500.99"/>
<path d="M282,491.98 Q283.5,497 282,500.48"/>
<path d="M285,491.47 Q286.5,497 285,499.97"/>
<path d="M258.5,495 L262,490.5 L269,490.5 L273.5,494.5 L273.5,503.5 L270,508 L263,508 L258.5,503.5 Z"/>
<path d="M262,490.5 L265,495 L265,503 L263,508 M265,495 L273.5,494.5 M265,503 L273.5,503.5"/>
<ellipse cx="555.5" cy="533" rx="8.5" ry="5"/>
<ellipse cx="555.5" cy="532" rx="3.5" ry="1.8" shape-rendering="geometricPrecision"/>
<path d="M547.2,534.5 Q548.5,540.5 555.5,540.8 Q562.5,540.5 564,534.5"/>
<ellipse cx="556" cy="552.8" rx="8.8" ry="5.6"/><path d="M549.7,553.5 Q555.1,548.4 559.1,551.7 Q558.6,554.5 551.2,554.6"/><path d="M548.1,555.3 Q556,558.7 563.5,555.3"/>
<path d="M547.2,569 Q549,564.8 556,564.8 Q563,564.8 564.8,569 L564.8,574.5 L560.5,579.2 L551.5,579.2 L547.2,574.5 Z"/>
<path d="M547.2,569 L551.5,572.5 L560.5,572.5 L564.8,569 M551.5,572.5 L551.5,579.2 M560.5,572.5 L560.5,579.2 M552,567.5 Q556,570.5 560,567.5"/></g>
<g class="lb"><text x="244.6" y="197.4">628</text>
<text x="211.0" y="221.3">616</text>
<text x="119.0" y="247.3">624</text>
<text x="152.6" y="242.3">620</text>
<text x="105.0" y="286.0">664</text>
<text x="104.0" y="306.3">640</text>
<text x="99.0" y="341.3">636</text>
<text x="185.6" y="365.0">652</text>
<text x="183.6" y="383.5">644</text>
<text x="184.6" y="404.3">660</text>
<text x="260.0" y="350.5">656</text>
<text x="298.3" y="378.2">632</text>
<text x="273.0" y="253.5">640</text>
<text x="273.0" y="272.5">648</text>
<text x="313.0" y="318.5">520</text>
<text x="364.0" y="177.3">830</text>
<text x="471.5" y="192.7">464</text>
<text x="463.0" y="239.4">468</text>
<text x="538.0" y="246.8">492</text>
<text x="529.0" y="143.7">460</text>
<text x="662.6" y="108.5">532</text>
<text x="652.0" y="220.5">400</text>
<text x="757.7" y="218.3">440</text>
<text x="812.6" y="193.6">476</text>
<text x="865.7" y="242.7">432</text>
<text x="630.0" y="289.5">452</text>
<text x="672.0" y="281.5" stroke="#000" stroke-width="0.3">448</text>
<text x="712.0" y="266.0">444</text>
<text x="701.0" y="412.1">472</text>
<text x="490.0" y="338.5">496</text>
<text x="558.0" y="355.5">436</text>
<text x="541.0" y="386.3">620</text>
<text x="576.0" y="421.5">624</text>
<text x="457.0" y="412.3">618</text>
<text x="573.0" y="451.5">524</text>
<text x="468.0" y="450.0">672</text>
<text x="443.8" y="530.1">488</text>
<text x="504.6" y="545.7">668</text>
<text x="567.8" y="540.5">652</text>
<text x="568.6" y="560.1">644</text>
<text x="568.6" y="578.1">667</text>
<text x="355.0" y="436.5">584</text>
<text x="351.6" y="498.5">552</text>
<text x="384.0" y="491.5">568</text>
<text x="268.4" y="459.5">580</text>
<text x="231.6" y="468.5">576</text>
<text x="253.0" y="525.5">532</text>
<text x="367.0" y="550.5">504</text></g>
<g class="logo">
<text transform="translate(871.8 721.6) rotate(-77.5)" x="0" y="7" text-anchor="middle" font-family="Liberation Sans, sans-serif" font-size="19" fill="#8a8a8a">T</text>
<text transform="translate(876.2 708.4) rotate(-65.8)" x="0" y="7" text-anchor="middle" font-family="Liberation Sans, sans-serif" font-size="19" fill="#8a8a8a">R</text>
<text transform="translate(882.4 697.5) rotate(-55.2)" x="0" y="7" text-anchor="middle" font-family="Liberation Sans, sans-serif" font-size="19" fill="#8a8a8a">U</text>
<text transform="translate(891.2 687.1) rotate(-43.7)" x="0" y="7" text-anchor="middle" font-family="Liberation Sans, sans-serif" font-size="19" fill="#8a8a8a">C</text>
<text transform="translate(902.6 678.4) rotate(-31.6)" x="0" y="7" text-anchor="middle" font-family="Liberation Sans, sans-serif" font-size="19" fill="#8a8a8a">K</text>
<text transform="translate(917.6 671.5) rotate(-17.6)" x="0" y="7" text-anchor="middle" font-family="Liberation Sans, sans-serif" font-size="19" fill="#8a8a8a">M</text>
<text transform="translate(932.6 668.5) rotate(-4.7)" x="0" y="7" text-anchor="middle" font-family="Liberation Sans, sans-serif" font-size="19" fill="#8a8a8a">A</text>
<text transform="translate(945.0 668.6) rotate(5.7)" x="0" y="7" text-anchor="middle" font-family="Liberation Sans, sans-serif" font-size="19" fill="#8a8a8a">L</text>
<text transform="translate(956.5 670.8) rotate(15.6)" x="0" y="7" text-anchor="middle" font-family="Liberation Sans, sans-serif" font-size="19" fill="#8a8a8a">L</text>
<text transform="translate(972.3 677.5) rotate(30.1)" x="0" y="7" text-anchor="middle" font-family="Liberation Sans, sans-serif" font-size="19" fill="#e8829a">P</text>
<text transform="translate(983.5 685.6) rotate(41.8)" x="0" y="7" text-anchor="middle" font-family="Liberation Sans, sans-serif" font-size="19" fill="#e8829a">A</text>
<text transform="translate(992.7 695.7) rotate(53.3)" x="0" y="7" text-anchor="middle" font-family="Liberation Sans, sans-serif" font-size="19" fill="#e8829a">R</text>
<text transform="translate(1000.0 707.9) rotate(65.3)" x="0" y="7" text-anchor="middle" font-family="Liberation Sans, sans-serif" font-size="19" fill="#e8829a">T</text>
<text transform="translate(1004.8 722.5) rotate(78.3)" x="0" y="7" text-anchor="middle" font-family="Liberation Sans, sans-serif" font-size="19" fill="#e8829a">S</text>
<path d="M892,725 Q893,719 905,718 Q940,716 980,729 Q960,724 930,722.5 Q901,721.5 898,726 Q901,731 930,733 L958,734 Q925,737 900,731.5 Q891,729 892,725 Z" fill="#d9dbd5"/>
<path d="M896,732 Q920,740 956,737.5 Q925,742 900,737 Z" fill="#dfe0db"/>
<g transform="translate(952 709) rotate(27) scale(1 0.58)"><path d="M28.50,0.00 L28.31,3.25 L34.06,5.49 L32.36,11.96 L26.25,11.09 L23.98,15.41 L23.98,15.41 L22.06,18.04 L25.68,23.04 L20.75,27.56 L16.09,23.53 L11.84,25.92 L11.84,25.92 L8.81,27.11 L9.15,33.26 L2.56,34.40 L0.81,28.49 L-4.06,28.21 L-4.06,28.21 L-7.25,27.56 L-10.29,32.93 L-16.45,30.33 L-14.72,24.41 L-18.66,21.54 L-18.66,21.54 L-21.00,19.27 L-26.46,22.14 L-30.23,16.62 L-25.58,12.57 L-27.35,8.03 L-27.35,8.03 L-28.08,4.86 L-34.23,4.32 L-34.42,-2.36 L-28.31,-3.25 L-27.35,-8.03 L-27.35,-8.03 L-26.25,-11.09 L-31.13,-14.87 L-27.68,-20.60 L-22.06,-18.04 L-18.66,-21.54 L-18.66,-21.54 L-16.09,-23.53 L-18.15,-29.34 L-12.15,-32.29 L-8.81,-27.11 L-4.06,-28.21 L-4.06,-28.21 L-0.81,-28.49 L0.59,-34.49 L7.24,-33.73 L7.25,-27.56 L11.84,-25.92 L11.84,-25.92 L14.72,-24.41 L19.15,-28.70 L24.33,-24.46 L21.00,-19.27 L23.98,-15.41 L23.98,-15.41 L25.58,-12.57 L31.62,-13.79 L33.69,-7.43 L28.08,-4.86 L28.50,-0.00 Z M15.5,0 A15.5,15.5 0 1 0 -15.5,0 A15.5,15.5 0 1 0 15.5,0 Z" fill="#e8829a" fill-rule="evenodd"/></g>
<path d="M905,702 Q906,720 938,724.5 Q962,727 988,720 Q965,731 935,730 Q902,727 900,707 Z" fill="#fff"/>
<path d="M918,685 Q901,688 901,700 Q902,718 934,723.5 Q953,726.5 972,725 Q950,729 930,727.5 Q906,724 904.5,705 Q904.5,692 918,685 Z" fill="#e8829a"/>
<path d="M901.2,708.5 Q903,725 930,728.5 Q946,731 962,730.5 Q940,734 924,732.5 Q901,729 901.2,717.5 Z" fill="#e8829a"/>
</g>
</svg>
</body></html>
